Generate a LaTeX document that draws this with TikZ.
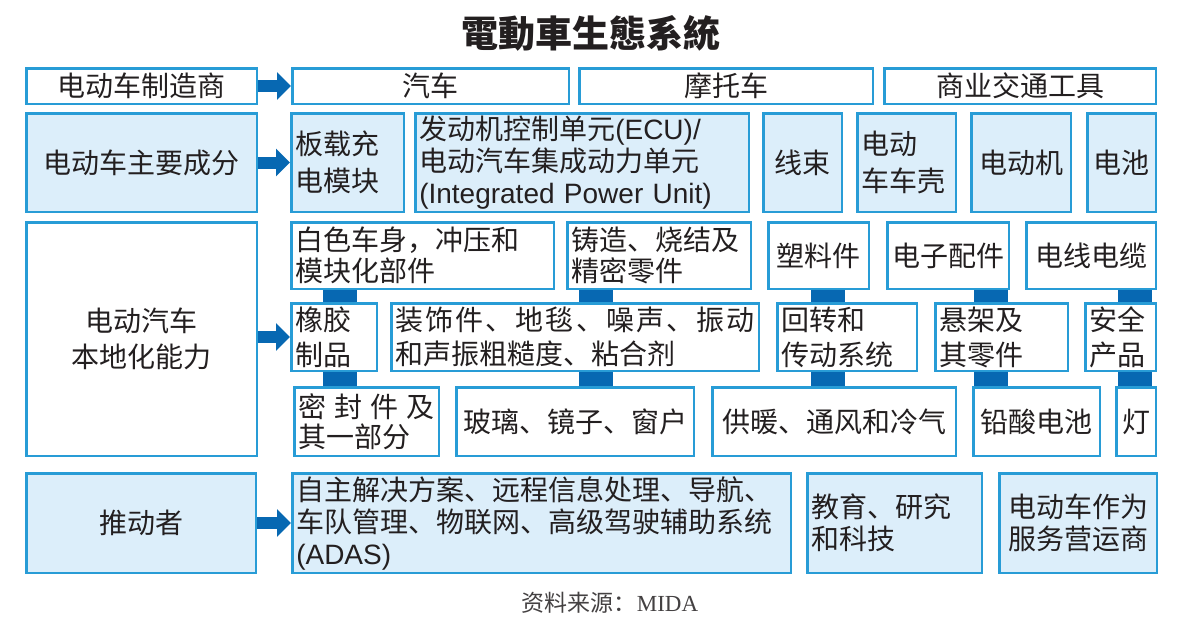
\documentclass[tikz,border=0pt]{standalone}
\usepackage{fontspec}
\setmainfont{Noto Sans CJK SC}
\newfontfamily\lat{Liberation Sans}
\newfontfamily\latserif{Liberation Serif}
\newfontfamily\tcfont{Noto Sans CJK TC}
\usetikzlibrary{arrows.meta}
\definecolor{bord}{RGB}{40,156,214}
\definecolor{fillb}{RGB}{220,238,250}
\definecolor{darkb}{RGB}{7,104,178}
\definecolor{txt}{RGB}{35,31,32}
\newcommand\bx[7]{%
  \pgfmathsetmacro\bw{#4-#2-2.5}\pgfmathsetmacro\bh{#5-#3-2.5}%
  \pgfmathsetmacro\tw{#4-#2-10.5}%
  \pgfmathsetmacro\cx{(#2+#4)/2}\pgfmathsetmacro\cy{(#3+#5)/2}%
  \node[box,minimum width=\bw pt,minimum height=\bh pt,#6] (#1) at (\cx,\cy) {#7};}
\begin{document}
\begin{tikzpicture}[x=1pt,y=-1pt,
  box/.style={draw=bord,line width=2.5pt,text=txt,inner xsep=4pt,inner ysep=0pt,
    align=center,font=\fontsize{28}{33}\selectfont},
  fl/.style={fill=fillb},
  la/.style={text width=\tw pt,align=left},
  ls/.style={font=\fontsize{28}{#1}\selectfont},
  arr/.style={draw=darkb,line width=12pt,-{Triangle[length=14pt,width=27pt]}},
  bar/.style={draw=darkb,line width=34pt}]
\path[fill=white,use as bounding box] (0,0) rectangle (1200,635);
\node[text=txt,font=\tcfont\bfseries\fontsize{37}{40}\selectfont] (title) at (591,33) {電動車生態系統};
% row 1
\bx{mfr}{25}{67}{258}{105}{}{电动车制造商}
\bx{car}{291}{67}{570}{105}{}{汽车}
\bx{moto}{578}{67}{874}{105}{}{摩托车}
\bx{comm}{883}{67}{1157}{105}{}{商业交通工具}
% row 2
\bx{comp}{25}{112}{258}{213}{fl}{电动车主要成分}
\bx{obc}{290}{112}{405}{213}{fl,la,ls=37}{板载充\\电模块}
\bx{ecu}{414}{112}{750}{213}{fl,la,ls=32}{发动机控制单元{\lat(ECU)/}\\电动汽车集成动力单元\\{\lat(Integrated Power Unit)}}
\bx{harness}{762}{112}{843}{213}{fl}{线束}
\bx{shell}{856}{112}{957}{213}{fl,la,ls=37}{电动\\车车壳}
\bx{motor}{970}{112}{1072}{213}{fl}{电动机}
\bx{batt}{1086}{112}{1157}{213}{fl}{电池}
% row 3
\bx{loc}{25}{221}{258}{457}{ls=36}{电动汽车\\本地化能力}
\bx{biw}{290}{221}{555}{290}{la,ls=31}{白色车身，冲压和\\模块化部件}
\bx{cast}{566}{221}{752}{290}{la,ls=31}{铸造、烧结及\\精密零件}
\bx{plastic}{767}{221}{870}{290}{}{塑料件}
\bx{elec}{886}{221}{1010}{290}{}{电子配件}
\bx{wire}{1025}{221}{1157}{290}{}{电线电缆}
\bx{rubber}{290}{302}{378}{372}{la,ls=35}{橡胶\\制品}
\bx{trim}{390}{302}{760}{372}{la,ls=34}{\makebox[\linewidth][s]{装\hfill 饰\hfill 件\hfill 、\hfill 地\hfill 毯\hfill 、\hfill 噪\hfill 声\hfill 、\hfill 振\hfill 动}\\和声振粗糙度、粘合剂}
\bx{rot}{776}{302}{918}{372}{la,ls=35}{回转和\\传动系统}
\bx{susp}{934}{302}{1069}{372}{la,ls=35}{悬架及\\其零件}
\bx{safety}{1084}{302}{1157}{372}{la,ls=35}{安全\\产品}
\bx{seal}{293}{386}{440}{457}{la,ls=30}{\makebox[\linewidth][s]{密\hfill 封\hfill 件\hfill 及}\\其一部分}
\bx{glass}{455}{386}{695}{457}{}{玻璃、镜子、窗户}
\bx{hvac}{711}{386}{957}{457}{}{供暖、通风和冷气}
\bx{lead}{972}{386}{1101}{457}{}{铅酸电池}
\bx{lamp}{1115}{386}{1157}{457}{}{灯}
% row 4
\bx{drivers}{25}{472}{257}{574}{fl}{推动者}
\bx{adas}{291}{472}{792}{574}{fl,la,ls=32}{自主解决方案、远程信息处理、导航、\\车队管理、物联网、高级驾驶辅助系统\\{\lat(ADAS)}}
\bx{edu}{806}{472}{983}{574}{fl,la,ls=32}{教育、研究\\和科技}
\bx{eaas}{998}{472}{1158}{574}{fl,ls=32}{电动车作为\\服务营运商}
% arrows
\draw[arr] (mfr.east) -- (car.west);
\draw[arr] (comp.east) -- (obc.west);
\draw[arr] (loc.east |- rubber.west) -- (rubber.west);
\draw[arr] (drivers.east) -- (adas.west);
% bars
\coordinate (c1) at (340,0);
\coordinate (c2) at (596,0);
\coordinate (c3) at (828,0);
\coordinate (c4) at (991,0);
\coordinate (c5) at (1135,0);
\draw[bar] (c1 |- biw.south) -- (c1 |- rubber.north);
\draw[bar] (c2 |- cast.south) -- (c2 |- trim.north);
\draw[bar] (c3 |- plastic.south) -- (c3 |- rot.north);
\draw[bar] (c4 |- elec.south) -- (c4 |- susp.north);
\draw[bar] (c5 |- wire.south) -- (c5 |- safety.north);
\draw[bar] (c1 |- rubber.south) -- (c1 |- seal.north);
\draw[bar] (c2 |- trim.south) -- (c2 |- glass.north);
\draw[bar] (c3 |- rot.south) -- (c3 |- hvac.north);
\draw[bar] (c4 |- susp.south) -- (c4 |- lead.north);
\draw[bar] (c5 |- safety.south) -- (c5 |- lamp.north);
% source
\node[text=txt!85,font=\fontsize{23}{26}\selectfont] (src) at (610,603) {资料来源：{\latserif MIDA}};
\end{tikzpicture}
\end{document}
